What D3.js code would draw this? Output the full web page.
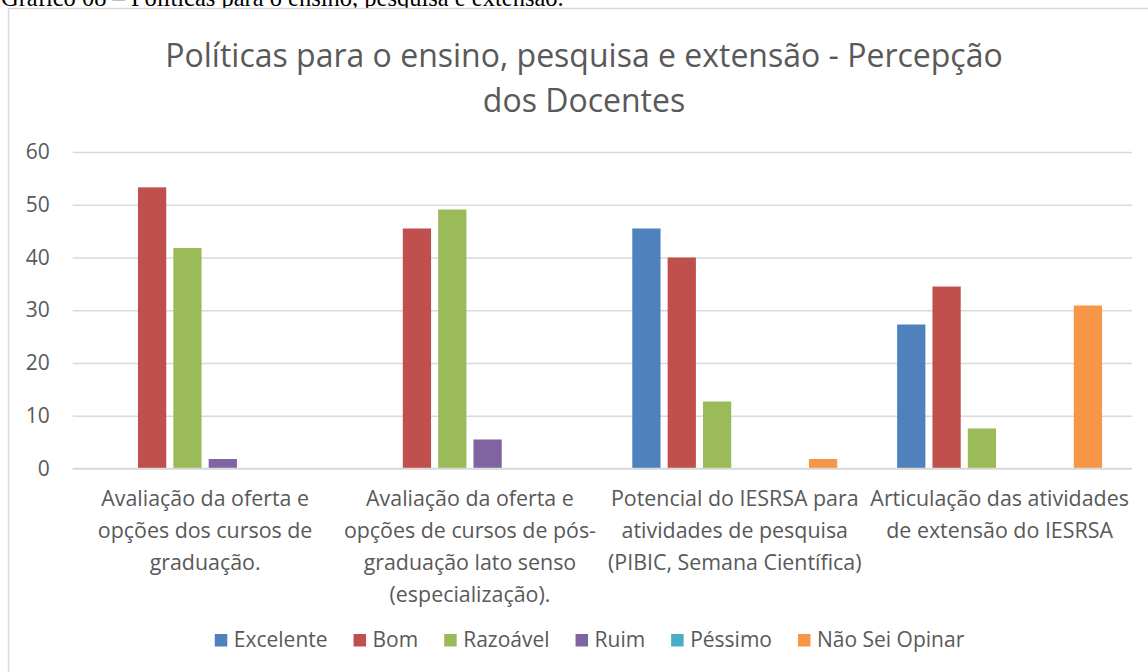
<!DOCTYPE html>
<html>
<head>
<meta charset="utf-8">
<script src="https://cdn.jsdelivr.net/npm/d3@7"></script>
<style>
  html, body { margin: 0; padding: 0; background: #fff; }
  svg { display: block; }
</style>
</head>
<body>
<svg id="chart" width="1148" height="672"></svg>
<script>
// ---- data ----
const categories = [
  ["Avaliação da oferta e", "opções dos cursos de", "graduação."],
  ["Avaliação da oferta e", "opções de cursos de pós-", "graduação lato senso", "(especialização)."],
  ["Potencial do IESRSA para", "atividades de pesquisa", "(PIBIC, Semana Científica)"],
  ["Articulação das atividades", "de extensão do IESRSA"]
];
const seriesNames = ["Excelente", "Bom", "Razoável", "Ruim", "Péssimo", "Não Sei Opinar"];
const excelente = [0, 0, 45.5, 27.3];
const bom       = [53.3, 45.5, 40.0, 34.5];
const razoavel  = [41.8, 49.1, 12.7, 7.6];
const ruim      = [1.8, 5.5, 0, 0];
const pessimo   = [0, 0, 0, 0];
const naoSei    = [0, 0, 1.8, 30.9];
const seriesValues = [excelente, bom, razoavel, ruim, pessimo, naoSei];
const colors = ["#4f81bd", "#c0504d", "#9bbb59", "#8064a2", "#4bacc6", "#f79646"];
const yTicks = [0, 10, 20, 30, 40, 50, 60];
const titleLines = ["Políticas para o ensino, pesquisa e extensão - Percepção", "dos Docentes"];
const captionText = "Gráfico 08 – Políticas para o ensino, pesquisa e extensão.";

// ---- drawing ----
const svg = d3.select("#chart");
const font = "'Open Sans', sans-serif";
const textColor = "#595959";
const gridColor = "#d9d9d9";

// caption above (cropped by the page top, as in the reference)
svg.append("text")
  .attr("x", 1).attr("y", 6)
  .attr("font-family", "'Liberation Serif', 'Times New Roman', serif")
  .attr("font-size", 24.5).attr("fill", "#000")
  .text(captionText);

// chart frame
svg.append("rect")
  .attr("x", 8.5).attr("y", 8.5)
  .attr("width", 1160).attr("height", 700)
  .attr("fill", "#fff").attr("stroke", gridColor).attr("stroke-width", 1.5);

// title
svg.append("g").selectAll("text").data(titleLines).join("text")
  .attr("x", 584).attr("y", (d, i) => 67 + i * 45)
  .attr("text-anchor", "middle")
  .attr("font-family", font).attr("font-size", 32).attr("fill", textColor)
  .text(d => d);

const plotLeft = 72.7, plotRight = 1132, plotTop = 152, plotBottom = 468.5;

const x0 = d3.scaleBand().domain(d3.range(categories.length)).range([plotLeft, plotRight]).padding(0);
const innerPad = (x0.bandwidth() - 212) / 2;
const x1 = d3.scaleBand().domain(d3.range(seriesNames.length))
  .range([innerPad, x0.bandwidth() - innerPad]).paddingInner(0.2).paddingOuter(0.1);
const y = d3.scaleLinear().domain([0, 60]).range([plotBottom, plotTop]);

// gridlines + y tick labels
const yAxis = d3.axisLeft(y).tickValues(yTicks).tickSize(-(plotRight - plotLeft)).tickPadding(23);
const gy = svg.append("g").attr("transform", `translate(${plotLeft},0)`).call(yAxis);
gy.select(".domain").remove();
gy.selectAll(".tick line").attr("stroke", gridColor).attr("stroke-width", 1.3);
gy.selectAll(".tick text")
  .attr("font-family", font).attr("font-size", 21).attr("fill", textColor);

// bars
const groups = svg.append("g").selectAll("g").data(categories).join("g")
  .attr("transform", (d, i) => `translate(${x0(i)},0)`);
groups.selectAll("rect")
  .data((d, i) => seriesValues.map((vals, s) => ({ s, v: vals[i] })).filter(e => e.v > 0))
  .join("rect")
  .attr("x", e => x1(e.s))
  .attr("width", x1.bandwidth())
  .attr("y", e => y(e.v))
  .attr("height", e => y(0) - y(e.v))
  .attr("fill", e => colors[e.s]);

// baseline on top
svg.append("line")
  .attr("x1", plotLeft).attr("x2", plotRight)
  .attr("y1", y(0)).attr("y2", y(0))
  .attr("stroke", gridColor).attr("stroke-width", 1.3);

// category labels
const xAxis = d3.axisBottom(x0).tickSize(0).tickFormat("");
const gx = svg.append("g").attr("transform", `translate(0,${plotBottom})`).call(xAxis);
gx.select(".domain").remove();
gx.selectAll(".tick").each(function(d) {
  const t = d3.select(this).append("text")
    .attr("text-anchor", "middle")
    .attr("font-family", font).attr("font-size", 21.4).attr("fill", textColor);
  categories[d].forEach((line, k) => {
    t.append("tspan").attr("x", 0).attr("y", 37 + k * 32).text(line);
  });
});

// legend
const legend = svg.append("g");
const items = legend.selectAll("g").data(seriesNames).join("g");
items.append("rect").attr("width", 12.5).attr("height", 12.5)
  .attr("y", -13).attr("fill", (d, i) => colors[i]);
items.append("text").attr("x", 19).attr("y", 0)
  .attr("font-family", font).attr("font-size", 21).attr("fill", textColor)
  .text(d => d);
const gap = 26;
const widths = [];
items.each(function() {
  widths.push(19 + d3.select(this).select("text").node().getComputedTextLength());
});
const total = d3.sum(widths) + gap * (widths.length - 1);
const start = 589.5 - total / 2;
items.attr("transform", (d, i) => {
  const tx = start + d3.sum(widths.slice(0, i)) + gap * i;
  return `translate(${tx},${647})`;
});
</script>
</body>
</html>
